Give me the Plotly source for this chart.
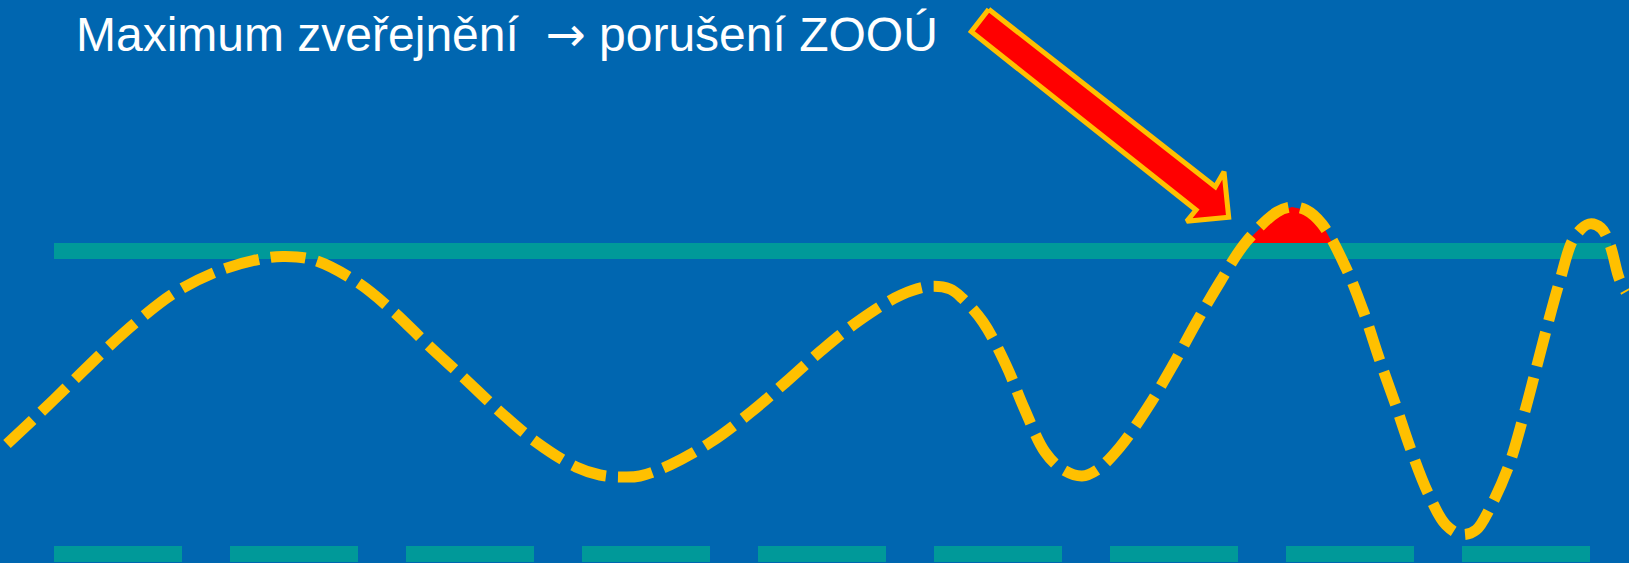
import numpy as np
import plotly.graph_objects as go

# ---- data ----
# wavy "publication level" curve (x, y in chart units; y grows downward)
curve_x = [7, 40, 72, 105, 140, 176, 221, 266, 285, 314, 357, 394, 428, 464, 498, 536,
           576, 600, 622, 640, 670, 711, 751, 786, 822, 860, 901, 929, 950, 962, 983,
           1006, 1024, 1045, 1062, 1082, 1097, 1120, 1148, 1173, 1196, 1220, 1246, 1277,
           1292, 1306, 1322, 1346, 1364, 1379, 1395, 1411, 1428, 1446, 1462, 1476, 1490,
           1509, 1523, 1535, 1547, 1560, 1574, 1589, 1601, 1610, 1619, 1626]
curve_y = [444, 413, 382, 350, 319, 292, 270, 258, 256.5, 260, 282, 312, 345, 378, 410, 442,
           467, 475, 477, 476, 465, 442, 412, 382, 350, 320, 295, 286.5, 289, 298, 322,
           365, 408, 452, 469, 476, 470, 447, 407, 365, 323, 282, 242, 212,
           207, 210, 224, 268, 313, 358, 403, 450, 493, 525, 534.5, 530, 508,
           465, 418, 373, 327, 280, 238, 224, 228, 245, 278, 292]

# threshold (ZOOÚ limit) line and baseline
limit_level = 251
limit_span = [54, 1611]
base_level = 554
base_span = [54, 1590]
breach_window = [1200, 1360]

# block arrow outline
arrow_x = [988.7, 1215.3, 1224.0, 1228.7, 1186.7, 1196.0, 971.3, 988.7]
arrow_y = [9.3, 186.7, 171.7, 217.3, 221.3, 210.0, 31.7, 9.3]

title_text = ("Maximum zveřejnění\u00a0 <span style=\"font-family:'DejaVu Sans'\">→</span>"
              " porušení ZOOÚ")

# ---- colours ----
BG = "#0066B0"
TEAL = "#009999"
YELLOW = "#FFC000"
RED = "#FF0000"

fig = go.Figure()

# limit line
fig.add_trace(go.Scatter(x=limit_span, y=[limit_level, limit_level], mode="lines",
                         line=dict(color=TEAL, width=16), hoverinfo="skip"))
# dashed baseline
fig.add_trace(go.Scatter(x=base_span, y=[base_level, base_level], mode="lines",
                         line=dict(color=TEAL, width=16, dash="128px,48px"), hoverinfo="skip"))

# red breach area: part of the curve above the top edge of the limit line
cx = np.array(curve_x, dtype=float)
cy = np.array(curve_y, dtype=float)
top_edge = limit_level - 8
idx = np.where((cx >= breach_window[0]) & (cx <= breach_window[1]) & (cy < top_edge))[0]
i0, i1 = idx[0], idx[-1]


def crossing(a, b):
    t = (top_edge - cy[a]) / (cy[b] - cy[a])
    return cx[a] + t * (cx[b] - cx[a])


red_x = [crossing(i0 - 1, i0)] + list(cx[idx]) + [crossing(i1, i1 + 1)]
red_y = [top_edge] + list(cy[idx]) + [top_edge]
fig.add_trace(go.Scatter(x=red_x, y=red_y, mode="lines", fill="toself", fillcolor=RED,
                         line=dict(width=0), hoverinfo="skip"))

# dashed yellow curve
fig.add_trace(go.Scatter(x=curve_x, y=curve_y, mode="lines",
                         line=dict(color=YELLOW, width=11, dash="35px,12px", shape="spline",
                                   smoothing=1.0),
                         hoverinfo="skip"))

# block arrow
fig.add_trace(go.Scatter(x=arrow_x, y=arrow_y, mode="lines", fill="toself",
                         fillcolor=RED, line=dict(color=YELLOW, width=5), hoverinfo="skip"))

fig.add_annotation(x=74, y=34, xref="x", yref="y", text=title_text, showarrow=False,
                   xanchor="left", yanchor="middle",
                   font=dict(family="Arial, Liberation Sans, sans-serif", size=48, color="white"))

fig.update_layout(width=1629, height=563, margin=dict(l=0, r=0, t=0, b=0),
                  paper_bgcolor=BG, plot_bgcolor=BG, showlegend=False,
                  xaxis=dict(visible=False, range=[0, 1629], fixedrange=True),
                  yaxis=dict(visible=False, range=[563, 0], fixedrange=True))

fig.write_html("out.html", config={"displayModeBar": False},
               post_script="document.body.style.margin='0';"
                           "document.body.style.overflow='hidden';"
                           "document.body.style.background='#0066B0';")
